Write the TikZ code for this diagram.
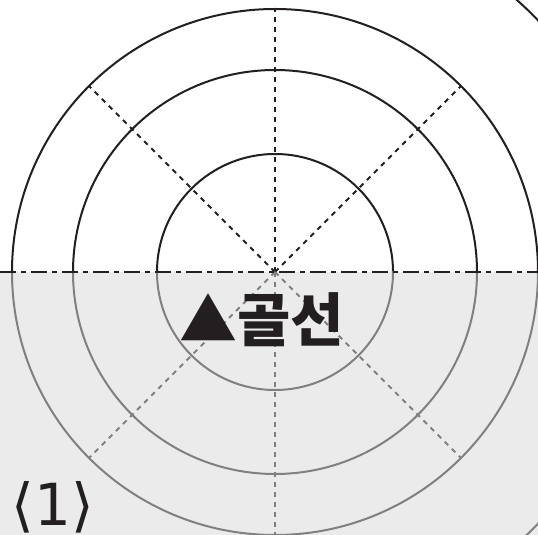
\documentclass[tikz,border=0pt]{standalone}
\usepackage{fontspec}
\newfontfamily\kofont{Noto Sans CJK KR}
\newfontfamily\numfont{DejaVu Sans}
\usetikzlibrary{positioning}
\definecolor{rdblack}{HTML}{231F20}
\definecolor{rdgrey}{HTML}{808080}
\definecolor{rdshade}{HTML}{EBEBEB}
\tikzset{
  ring/.style   ={line width=2pt},
  spoke/.style  ={line width=2pt, dash pattern=on 5pt off 5pt},
  axis/.style   ={line width=2.6pt, draw=rdblack, dash pattern=on 16pt off 5pt on 5pt off 5pt},
  lbl/.style    ={inner sep=0pt, text=rdblack}
}

\begin{document}
\begin{tikzpicture}[x=1pt,y=1pt]
  \useasboundingbox (-275,-263) rectangle (263,272);
  % lower half shaded
  \fill[rdshade] (-275,-263) rectangle (263,0);

  % upper half: black
  \begin{scope}
    \clip (-275,0) rectangle (263,272);
    \foreach \r in {118,202,263}
      \draw[ring,rdblack] (0,0) circle (\r);
    \draw[ring,rdblack] (0:364) arc (0:90:364);
    \foreach \a in {45,90,135}
      \draw[spoke,rdblack] (0,0) -- (\a:263);
  \end{scope}

  % lower half: grey
  \begin{scope}
    \clip (-275,-263) rectangle (263,0);
    \foreach \r in {118,202,263}
      \draw[ring,rdgrey] (0,0) circle (\r);
    \draw[ring,rdgrey] (0:364) arc (0:-90:364);
    \foreach \a in {225,270,315}
      \draw[spoke,rdgrey] (0,0) -- (\a:263);
  \end{scope}

  \coordinate (west) at (-275,0);
  \coordinate (east) at (263,0);
  \draw[axis] (west) -- (east);

  \node[lbl,font=\kofont\bfseries\fontsize{58}{58}\selectfont] (mark) at (-13,-48) {▲골선};
  \node[lbl,font=\numfont\fontsize{58}{58}\selectfont] (num) at (-222,-235) {⟨1⟩};
\end{tikzpicture}
\end{document}
